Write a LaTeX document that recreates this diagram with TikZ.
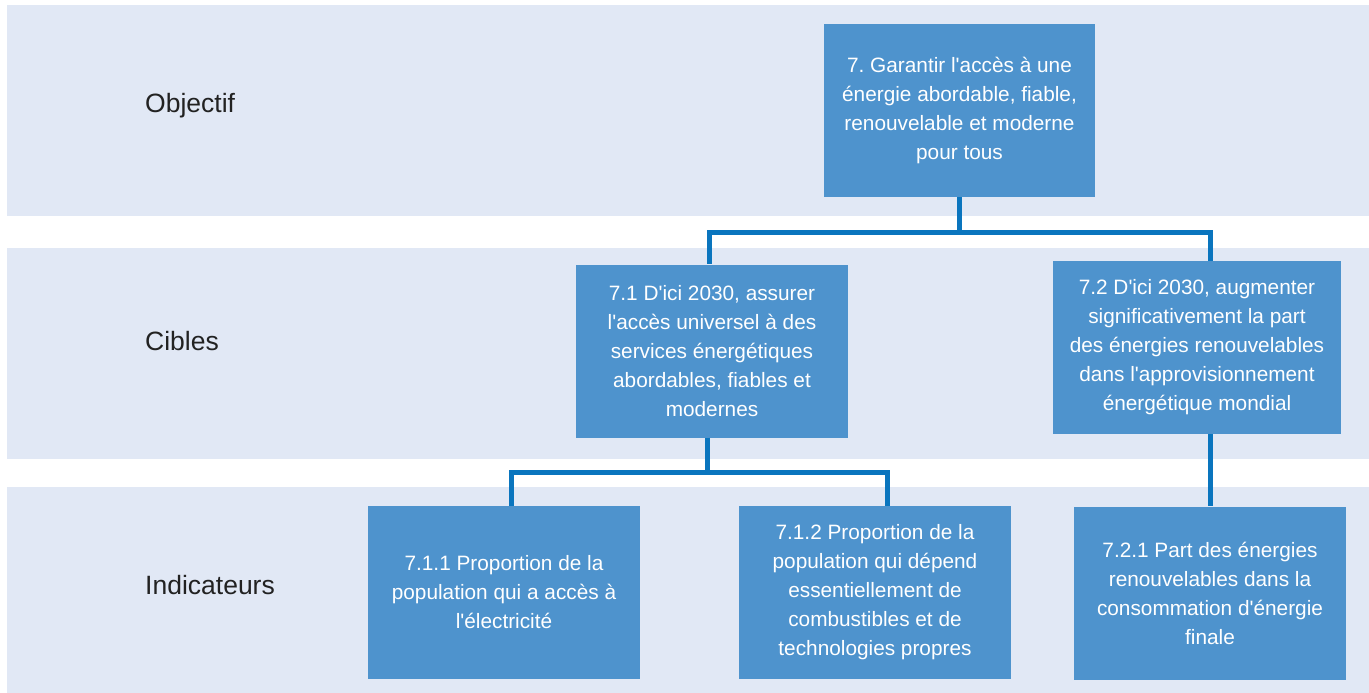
\documentclass[tikz,border=0pt]{standalone}
\usepackage{fontspec}
\setmainfont{Liberation Sans}
\usepackage{tikz}
\usetikzlibrary{calc, positioning}
\usepackage{xcolor}
\definecolor{bandBg}{RGB}{225, 232, 245}
\definecolor{boxFill}{RGB}{78, 147, 205}
\definecolor{linkBlue}{RGB}{10, 117, 190}
\definecolor{labelInk}{RGB}{34, 34, 34}
\newcommand{\ap}{\textquotesingle}
\frenchspacing

\tikzset{
  band/.style={fill=bandBg, draw=none},
  sdgbox/.style={fill=boxFill, text=white, inner sep=0pt, align=center,
    minimum width=272pt, minimum height=173pt,
    font={\fontsize{20.8}{29}\selectfont}},
  rowlabel/.style={anchor=base west, text=labelInk, inner sep=0pt,
    font={\fontsize{26.5}{30}\selectfont}},
  link/.style={linkBlue, line width=5pt}
}

\begin{document}
\begin{tikzpicture}[x=1pt, y=-1pt]
  \useasboundingbox (0,0) rectangle (1369,693);

  % background rows
  \fill[band] (7,5) rectangle (1369,216);
  \fill[band] (7,248) rectangle (1369,459);
  \fill[band] (7,487) rectangle (1369,693);

  \node[rowlabel] (lObj) at (145,112) {Objectif};
  \node[rowlabel] (lCib) at (145,350) {Cibles};
  \node[rowlabel] (lInd) at (145,594) {Indicateurs};

  % goal and targets
  \node[sdgbox, minimum width=271pt] (goal) at (959.5,110.5)
    {7. Garantir l\ap accès à une\\énergie abordable, fiable,\\renouvelable et moderne\\pour tous};
  \node[sdgbox] (c71) at (712,351)
    {7.1 D\ap ici 2030, assurer\\l\ap accès universel à des\\services énergétiques\\abordables, fiables et\\modernes};
  \node[sdgbox, minimum width=288pt] (c72) at (1197,347.5)
    {7.2 D\ap ici 2030, augmenter\\significativement la part\\des énergies renouvelables\\dans l\ap approvisionnement\\énergétique mondial};

  % indicators
  \node[sdgbox] (i711) at (504,592.5)
    {7.1.1 Proportion de la\\population qui a accès à\\l\ap électricité};
  \node[sdgbox] (i712) at (875,592.5)
    {7.1.2 Proportion de la\\population qui dépend\\essentiellement de\\combustibles et de\\technologies propres};
  \node[sdgbox] (i721) at (1210,593)
    {7.2.1 Part des énergies\\renouvelables dans la\\consommation d\ap énergie\\finale};

  % connectors
  \coordinate (j1) at (959.5,232);
  \coordinate (j2) at (707,472);
  \draw[link] (goal.south) -- (j1) -| ([xshift=-3pt]c71.north);
  \draw[link] (j1) -| (c72.north -| i721.north);
  \draw[link] (c71.south -| j2) -- (j2) -| ([xshift=7pt]i711.north);
  \draw[link] (j2) -| ([xshift=12pt]i712.north);
  \draw[link] (c72.south -| i721.north) -- (i721.north);
\end{tikzpicture}
\end{document}
